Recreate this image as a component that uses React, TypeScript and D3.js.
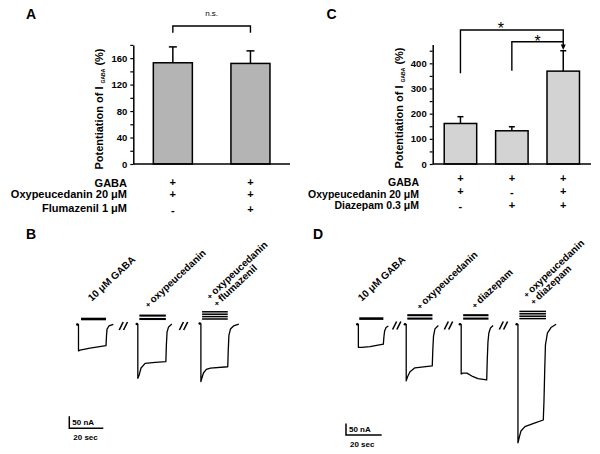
import React, { useEffect, useRef } from 'react';
import * as d3 from 'd3';

const FONT = 'Liberation Sans, Arial, Helvetica, sans-serif';

// Panel A: potentiation of I_GABA, flumazenil check
const aValues = [153, 152];
const aErrors = [24, 19];
const aMajorTicks = [0, 40, 80, 120, 160];
const aRowLabels = ['GABA', 'Oxypeucedanin 20 μM', 'Flumazenil 1 μM'];
const aSigns = [['+', '+'], ['+', '+'], ['-', '+']];

// Panel C: potentiation of I_GABA, diazepam combination
const cValues = [161, 132, 369];
const cErrors = [27, 16, 81];
const cMajorTicks = [0, 100, 200, 300, 400];
const cRowLabels = ['GABA', 'Oxypeucedanin 20 μM', 'Diazepam 0.3 μM'];
const cSigns = [['+', '+', '+'], ['+', '-', '+'], ['-', '+', '+']];

// Panel B current traces: [time (s), current (nA)]
const bTraceGaba = [[0, 2], [0.7, 2], [0.7, -108], [1.6, -105], [7.5, -96], [16.9, -86], [17.2, -42], [17.5, -17], [18.6, -4], [21.2, 3]];
const bTraceOxy = [[0, 4], [0.6, 4], [0.6, -222], [1.4, -208], [2.5, -179], [4.9, -160], [10.8, -156], [17.1, -153], [17.4, -83], [17.8, -29], [18.7, -8], [20.6, 4]];
const bTraceFlu = [[0, 6], [0.7, 6], [0.7, -236], [1.3, -221], [2.2, -200], [3.9, -185], [6.3, -180], [16.5, -174], [16.8, -104], [17.2, -42], [18.1, -17], [19.9, -4], [23, 4]];
const bOffsets = [0, 35, 72]; // display time of each sweep (s)
const bApplications = [[2.2, 16.9], [1.5, 17.1], [1.4, 16.5]];
const bBarCount = [1, 2, 4];
const bLabels = [['10 μM GABA'], ['+ oxypeucedanin'], ['+ oxypeucedanin', '+ flumazenil']];
const bBreaks = [27, 62.4];

// Panel D current traces: [time (s), current (nA)]
const dTraceGaba = [[0, 3], [0.6, 3], [0.6, -97], [2.4, -97], [7.1, -94], [14.6, -83], [14.9, -52], [15.3, -26], [16.1, -11], [17.4, -4]];
const dTraceOxy = [[0, 3], [0.7, 3], [0.7, -243], [1.4, -226], [2.8, -203], [5.6, -186], [15.3, -178], [15.6, -109], [16, -48], [16.8, -17], [18.7, -2]];
const dTraceDzp = [[0, 3], [0.7, 3], [0.7, -213], [1.7, -209], [3.9, -209], [6.7, -222], [10.1, -233], [15, -239], [15.3, -152], [15.7, -74], [16.2, -35], [17.1, -13], [18.6, -2]];
const dTraceBoth = [[0, 3], [0.7, 3], [0.7, -512], [1.6, -483], [2.4, -461], [4.6, -442], [10.3, -426], [14.9, -413], [15.3, -326], [15.7, -196], [16.1, -87], [17.2, -35], [19.2, -11], [22.1, 3]];
const dOffsets = [0, 26.7, 57.5, 89.3];
const dApplications = [[1.1, 14.6], [1.3, 15.4], [1.8, 16], [1.5, 16.4]];
const dBarCount = [1, 2, 2, 4];
const dLabels = [['10 μM GABA'], ['+ oxypeucedanin'], ['+ diazepam'], ['+ oxypeucedanin', '+ diazepam']];
const dBreaks = [22, 51, 81.8];

const scaleBarNA = 50;
const scaleBarSec = 20;

type Sel = d3.Selection<SVGGElement, unknown, null, undefined>;

function drawBarPanel(g: Sel, cfg: any) {
  const x = d3.scaleBand<number>()
    .domain(cfg.values.map((_: number, i: number) => i))
    .range([cfg.axisX, cfg.axisEnd])
    .paddingInner(cfg.padInner)
    .paddingOuter(cfg.padOuter);
  const y = d3.scaleLinear().domain([0, cfg.max]).range([164, cfg.yTop]);
  const cx = (i: number) => (x(i) as number) + x.bandwidth() / 2;

  // bars
  g.selectAll('rect.bar').data(cfg.values).enter().append('rect')
    .attr('x', (_: any, i: number) => x(i) as number)
    .attr('y', (d: any) => y(d))
    .attr('width', x.bandwidth())
    .attr('height', (d: any) => y(0) - y(d))
    .attr('fill', cfg.fill)
    .attr('stroke', '#000')
    .attr('stroke-width', 1.5);

  // upper error bars
  cfg.values.forEach((v: number, i: number) => {
    const top = y(v + cfg.errors[i]);
    g.append('line').attr('x1', cx(i)).attr('x2', cx(i)).attr('y1', y(v)).attr('y2', top)
      .attr('stroke', '#000').attr('stroke-width', 1.5);
    g.append('line').attr('x1', cx(i) - cfg.cap / 2).attr('x2', cx(i) + cfg.cap / 2).attr('y1', top).attr('y2', top)
      .attr('stroke', '#000').attr('stroke-width', 1.5);
  });

  // y axis
  const axis = d3.axisLeft(y)
    .tickValues(d3.range(0, cfg.max + 0.001, cfg.minor))
    .tickSize(3)
    .tickSizeOuter(0)
    .tickPadding(3)
    .tickFormat((d: any) => (cfg.majors.includes(d) ? String(d) : ''));
  const ga = g.append('g').attr('transform', `translate(${cfg.axisX},0)`).call(axis as any);
  ga.attr('font-family', FONT).attr('font-size', 9.5).attr('font-weight', 'bold');
  ga.select('.domain').attr('stroke-width', 1.5);
  ga.selectAll('.tick line').attr('stroke-width', 1.2);

  // x axis line
  g.append('line').attr('x1', cfg.axisX).attr('x2', cfg.axisEnd).attr('y1', y(0)).attr('y2', y(0))
    .attr('stroke', '#000').attr('stroke-width', 1.5);

  // y label
  const yl = g.append('text')
    .attr('transform', `translate(${cfg.labelX},${cfg.labelY}) rotate(-90)`)
    .attr('text-anchor', 'middle')
    .attr('font-family', FONT).attr('font-weight', 'bold').attr('font-size', 11);
  yl.append('tspan').text('Potentiation of I ');
  yl.append('tspan').attr('font-size', 5).attr('dy', 2).text('GABA');
  yl.append('tspan').attr('dy', -2).text(' (%)');

  // condition rows
  cfg.rows.forEach((r: string, k: number) => {
    g.append('text').attr('x', cfg.rowX).attr('y', cfg.rowY[k]).attr('text-anchor', 'end')
      .attr('font-family', FONT).attr('font-weight', 'bold').attr('font-size', cfg.rowFont).text(r);
    cfg.signs[k].forEach((s: string, i: number) => {
      g.append('text').attr('x', cx(i)).attr('y', cfg.signY[k] + (s === '-' ? 1 : 0)).attr('text-anchor', 'middle')
        .attr('font-family', FONT).attr('font-weight', 'bold').attr('font-size', 11).text(s);
    });
  });
  return { x, y, cx };
}

function drawTraces(g: Sel, cfg: any) {
  const line = d3.line<number[]>().curve(d3.curveLinear);
  cfg.traces.forEach((tr: number[][], i: number) => {
    const off = cfg.offsets[i];
    line.x((d) => cfg.x(off + d[0])).y((d) => cfg.y(d[1]));
    g.append('path').attr('d', line(tr) as string).attr('fill', 'none')
      .attr('stroke', '#000').attr('stroke-width', 1.3).attr('stroke-linejoin', 'round');
    g.append('circle').attr('cx', cfg.x(off + tr[0][0])).attr('cy', cfg.y(tr[0][1])).attr('r', 1.3).attr('fill', '#000');

    // drug application bars
    const n = cfg.barCount[i];
    const th = n > 2 ? 1.5 : n === 2 ? 2.1 : 2.6;
    const sp = n > 2 ? 2.4 : 3.4;
    const [a0, a1] = cfg.apps[i];
    for (let k = 0; k < n; k++) {
      const yc = cfg.barY - k * sp;
      g.append('rect').attr('x', cfg.x(off + a0)).attr('width', cfg.x(off + a1) - cfg.x(off + a0))
        .attr('y', yc - th / 2).attr('height', th).attr('fill', '#000');
    }

    // rotated labels
    const [lx, ly] = cfg.labelPos[i];
    cfg.labels[i].forEach((txt: string, k: number) => {
      const t = g.append('text')
        .attr('transform', `translate(${lx + k * 7},${ly + k * 7}) rotate(-43)`)
        .attr('font-family', FONT).attr('font-weight', 'bold').attr('font-size', 10);
      if (txt.startsWith('+ ')) {
        t.append('tspan').attr('font-size', 8).text('+ ');
        t.append('tspan').text(txt.slice(2));
      } else {
        t.text(txt);
      }
    });
  });

  // sweep breaks "//"
  cfg.breaks.forEach((b: number) => {
    const xc = cfg.x(b);
    for (let k = 0; k < 2; k++) {
      g.append('line')
        .attr('x1', xc - 4 + k * 4.3).attr('y1', cfg.breakY + 4)
        .attr('x2', xc + k * 4.3).attr('y2', cfg.breakY - 4)
        .attr('stroke', '#000').attr('stroke-width', 1.6);
    }
  });

  // scale bar
  const [sx, sy] = cfg.scalePos;
  const hLen = cfg.x(scaleBarSec) - cfg.x(0);
  const vLen = cfg.y(-scaleBarNA) - cfg.y(0);
  g.append('path').attr('d', `M${sx},${sy - vLen}V${sy}H${sx + hLen}`)
    .attr('fill', 'none').attr('stroke', '#000').attr('stroke-width', 1.5);
  g.append('text').attr('x', sx + 3).attr('y', sy - vLen / 2 + 3).attr('font-family', FONT)
    .attr('font-weight', 'bold').attr('font-size', 8).text(`${scaleBarNA} nA`);
  g.append('text').attr('x', sx + 4).attr('y', sy + 12).attr('font-family', FONT)
    .attr('font-weight', 'bold').attr('font-size', 8).text(`${scaleBarSec} sec`);
}

const App: React.FC = () => {
  const svgRef = useRef<SVGSVGElement>(null);

  useEffect(() => {
    if (!svgRef.current) return;
    const svg = d3.select(svgRef.current);
    svg.selectAll('*').remove();
    const root = svg.append('g') as unknown as Sel;

    // panel letters
    [['A', 26, 19], ['C', 326.5, 19], ['B', 26, 239], ['D', 313, 238.5]].forEach(([t, x, y]) => {
      root.append('text').attr('x', x as number).attr('y', y as number).attr('font-family', FONT)
        .attr('font-weight', 'bold').attr('font-size', 14).text(t as string);
    });

    // ---- A ----
    const A = drawBarPanel(root, {
      values: aValues, errors: aErrors, majors: aMajorTicks, max: 180, minor: 20, yTop: 44.9,
      axisX: 133.3, axisEnd: 290, padInner: 0.497, padOuter: 0.258, fill: '#b4b4b4', cap: 8,
      labelX: 102.5, labelY: 109, rows: aRowLabels, signs: aSigns, rowX: 127, rowFont: 11,
      rowY: [186.7, 198.3, 212.3], signY: [186.4, 198, 212.5],
    });
    const aL = A.cx(0), aR = A.cx(1);
    root.append('path').attr('d', `M${aL},32.7V26H${aR}V32.7`).attr('fill', 'none')
      .attr('stroke', '#000').attr('stroke-width', 1.4);
    root.append('text').attr('x', (aL + aR) / 2).attr('y', 16).attr('text-anchor', 'middle')
      .attr('font-family', FONT).attr('font-size', 8).text('n.s.');

    // ---- C ----
    const C = drawBarPanel(root, {
      values: cValues, errors: cErrors, majors: cMajorTicks, max: 475, minor: 50, yTop: 44.45,
      axisX: 432.7, axisEnd: 591, padInner: 0.368, padOuter: 0.224, fill: '#d3d3d3', cap: 6,
      labelX: 402.5, labelY: 108, rows: cRowLabels, signs: cSigns, rowX: 419, rowFont: 10.5,
      rowY: [186.2, 197.6, 209], signY: [182.4, 195.4, 209.4],
    });
    const c0 = C.cx(0), c1 = C.cx(1), c2 = C.cx(2);
    root.append('path').attr('d', `M${c0},73.3V30H${c2}V46`).attr('fill', 'none')
      .attr('stroke', '#000').attr('stroke-width', 1.4);
    root.append('path').attr('d', `M${c1},70.7V41.7H${c2}`).attr('fill', 'none')
      .attr('stroke', '#000').attr('stroke-width', 1.4);
    root.append('path').attr('d', `M${c2 - 2.5},44.5L${c2 + 2.5},44.5L${c2},50Z`).attr('fill', '#000');
    root.append('text').attr('x', (c0 + c2) / 2 - 11).attr('y', 33.5).attr('text-anchor', 'middle')
      .attr('font-family', FONT).attr('font-size', 16).text('*');
    root.append('text').attr('x', (c1 + c2) / 2).attr('y', 46.5).attr('text-anchor', 'middle')
      .attr('font-family', FONT).attr('font-size', 16).text('*');

    // ---- B ----
    const bx = d3.scaleLinear().domain([0, scaleBarSec]).range([77.3, 77.3 + 34]);
    const by = d3.scaleLinear().domain([0, -scaleBarNA]).range([325, 337]);
    drawTraces(root, {
      x: bx, y: by, traces: [bTraceGaba, bTraceOxy, bTraceFlu], offsets: bOffsets, apps: bApplications,
      barCount: bBarCount, barY: 319, labels: bLabels,
      labelPos: [[91.7, 301.7], [148.3, 308.3], [210, 300]],
      breaks: bBreaks, breakY: 326, scalePos: [69.3, 428.3],
    });

    // ---- D ----
    const dx = d3.scaleLinear().domain([0, scaleBarSec]).range([357.3, 357.3 + 35.7]);
    const dy = d3.scaleLinear().domain([0, -scaleBarNA]).range([325, 336.5]);
    drawTraces(root, {
      x: dx, y: dy, traces: [dTraceGaba, dTraceOxy, dTraceDzp, dTraceBoth], offsets: dOffsets, apps: dApplications,
      barCount: dBarCount, barY: 318.6, labels: dLabels,
      labelPos: [[361.7, 301.7], [420, 310], [475, 309], [526.7, 298.3]],
      breaks: dBreaks, breakY: 325.5, scalePos: [346, 435],
    });
  }, []);

  return (
    <svg ref={svgRef} width={600} height={454}
      style={{ position: 'absolute', left: 0, top: 0, background: '#fff' }} />
  );
};

export default App;
